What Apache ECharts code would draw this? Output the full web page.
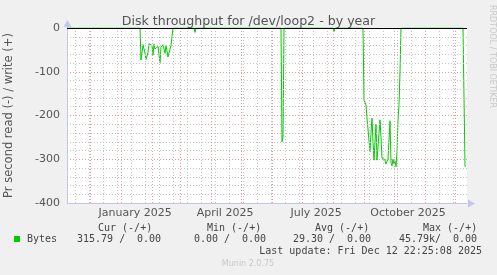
<!DOCTYPE html>
<html><head><meta charset="utf-8">
<script src="https://cdn.jsdelivr.net/npm/echarts@6/dist/echarts.min.js"></script>
<style>html,body{margin:0;padding:0;background:#f0f0f0}#c{width:497px;height:275px}</style>
</head><body><div id="c"></div>
<script>
const DAY = 86400000;
const endMs = Date.UTC(2025, 11, 12, 22, 25, 8);
const spanDays = 400;
const startMs = endMs - spanDays * DAY;

// read throughput (bytes/s), plotted as negative; sampled days since graph start
const readDays = [0, 18, 19, 20,
  73, 74, 75, 76, 77, 78, 79, 80, 81, 82, 83, 84, 85, 86, 87, 88, 89, 90, 91, 92, 93, 94, 95, 96, 97, 98, 99, 100, 101, 102, 103, 104, 105, 106,
  127, 128, 129,
  214, 215, 216, 217,
  222, 223, 224,
  266, 267, 268,
  296, 297, 298, 299, 300, 301, 302, 303, 304, 305, 306, 307, 308, 309, 310, 311, 312, 313, 314, 315, 316, 317, 318, 319, 320, 321, 322, 323, 324, 325, 326, 327, 328, 329, 330, 331, 332, 333, 334,
  396, 398, 399];
const readBytes = [0, 0, 3, 0,
  0, 73, 77, 38, 40, 58, 72, 70, 56, 36, 34, 36, 40, 62, 37, 48, 50, 44, 42, 42, 79, 44, 40, 38, 40, 58, 40, 38, 66, 67, 67, 40, 20, 0,
  0, 10, 0,
  0, 260, 250, 0,
  0, 4, 0,
  0, 8, 0,
  0, 165, 170, 176, 206, 206, 208, 283, 240, 206, 260, 302, 302, 220, 302, 302, 302, 210, 250, 297, 298, 300, 302, 311, 305, 300, 302, 212, 309, 315, 300, 310, 305, 317, 285, 210, 175, 100, 0,
  0, 316, 316];

const monthNames = ['January','February','March','April','May','June','July','August','September','October','November','December'];
const xLabelDates = [Date.UTC(2025,0,15), Date.UTC(2025,3,15), Date.UTC(2025,6,15), Date.UTC(2025,9,15)];
const yMin = -400, yMax = 0, yStep = 100, yMinorStep = 20;

const legendHeaders = ['Cur (-/+)', 'Min (-/+)', 'Avg (-/+)', 'Max (-/+)'];
const legendRead = ['315.79 /', '0.00 /', '29.30 /', '45.79k/'];
const legendWrite = ['0.00', '0.00', '0.00', '0.00'];
const legendName = 'Bytes';
const lastUpdate = 'Last update: Fri Dec 12 22:25:08 2025';

// grid line positions (drawn at midday so they fall on pixel centres)
const HALF = DAY / 2;
const monthStarts = [];
for (let i = 0; i < 14; i++) { const t = Date.UTC(2024, 11 + i, 1) + HALF; if (t > startMs && t < endMs) monthStarts.push(t); }
const minorDates = [];
for (let t = Date.UTC(2024, 10, 16) + HALF; t < endMs; t += 14 * DAY) if (t > startMs) minorDates.push(t);
const minorYs = [];
for (let v = yMin + yMinorStep; v < yMax; v += yMinorStep) if (v % yStep !== 0) minorYs.push(v);

const lineData = readDays.map((d, i) => [startMs + d * DAY, -readBytes[i]]);

const mono = 'DejaVu Sans Mono';
const txt = '#444';
const headX = [98, 207, 315, 423];
const readX = [77, 194, 293, 399];
const writeX = [137, 242, 347, 453];
const axisCol = '#c4c6ee';
const gridCol = '#c4c4c4';
const majCol = '#e89a9a';
const dot = [1, 2];

const chart = echarts.init(document.getElementById('c'), null, {renderer: 'canvas'});
chart.setOption({
  backgroundColor: '#f0f0f0',
  animation: false,
  title: {
    text: 'Disk throughput for /dev/loop2 - by year',
    left: 'center', top: 10,
    textStyle: {fontFamily: 'DejaVu Sans', fontSize: 12.6, fontWeight: 'normal', color: '#555'}
  },
  grid: {left: 67, top: 28, width: 400, height: 175, show: true, backgroundColor: '#ffffff', borderWidth: 0, containLabel: false, outerBoundsMode: 'none'},
  xAxis: {
    type: 'value', min: startMs, max: endMs,
    axisLine: {show: true, onZero: false, lineStyle: {color: axisCol, width: 1}},
    axisTick: {show: false},
    splitLine: {show: false},
    axisLabel: {
      customValues: xLabelDates,
      formatter: v => { const d = new Date(v); return monthNames[d.getUTCMonth()] + ' ' + d.getUTCFullYear(); },
      fontFamily: 'DejaVu Sans', fontSize: 11, color: '#555', margin: 5, hideOverlap: false
    }
  },
  yAxis: {
    type: 'value', min: yMin, max: yMax, interval: yStep,
    name: 'Pr second read (-) / write (+)', nameLocation: 'middle', nameGap: 52,
    nameTextStyle: {fontFamily: 'DejaVu Sans', fontSize: 11.5, color: '#555'},
    axisLine: {show: true, onZero: false, lineStyle: {color: axisCol, width: 1}},
    axisTick: {show: false},
    axisLabel: {fontFamily: 'DejaVu Sans', fontSize: 11, color: '#555', margin: 7},
    splitLine: {show: true, lineStyle: {color: majCol, type: dot, width: 1}}
  },
  series: [
    {
      type: 'line', data: [], z: 1, silent: true,
      markLine: {
        silent: true, symbol: ['none', 'none'], label: {show: false}, animation: false,
        data: minorYs.map(v => ({yAxis: v, lineStyle: {color: gridCol, type: dot, width: 1}}))
          .concat(minorDates.map(t => ({xAxis: t, lineStyle: {color: gridCol, type: dot, width: 1}})))
          .concat(monthStarts.map(t => ({xAxis: t, lineStyle: {color: majCol, type: dot, width: 1}})))
      }
    },
    {
      name: legendName, type: 'line', data: lineData, z: 3, showSymbol: false, symbol: 'none',
      lineStyle: {color: '#00cc00', width: 1}, itemStyle: {color: '#00cc00'},
      markLine: {
        silent: true, symbol: ['none', 'none'], label: {show: false},
        data: [{yAxis: 0}], lineStyle: {color: '#000', type: 'solid', width: 1}
      }
    }
  ],
  graphic: [
    {type: 'polygon', shape: {points: [[63.5, 27], [67.5, 20], [71.5, 27]]}, style: {fill: axisCol}},
    {type: 'polygon', shape: {points: [[468, 199.5], [475, 203.5], [468, 207.5]]}, style: {fill: axisCol}},
    {type: 'text', x: 488, y: 5, rotation: -Math.PI / 2, style: {text: 'RRDTOOL / TOBI OETIKER', fontFamily: 'DejaVu Sans', fontSize: 8, fill: '#c8c8c8', textAlign: 'left', textVerticalAlign: 'bottom'}},
    {type: 'rect', shape: {x: 14, y: 236, width: 6, height: 6}, style: {fill: '#00cc00'}},
    {type: 'text', x: 27, y: 239, style: {text: legendName, fontFamily: mono, fontSize: 10, fill: txt, textVerticalAlign: 'middle'}}
  ].concat(legendHeaders.map((t, i) => ({type: 'text', x: headX[i], y: 228, style: {text: t, fontFamily: mono, fontSize: 10, fill: txt, textVerticalAlign: 'middle'}})))
   .concat(legendRead.map((t, i) => ({type: 'text', x: readX[i], y: 239, style: {text: t, fontFamily: mono, fontSize: 10, fill: txt, textVerticalAlign: 'middle'}})))
   .concat(legendWrite.map((t, i) => ({type: 'text', x: writeX[i], y: 239, style: {text: t, fontFamily: mono, fontSize: 10, fill: txt, textVerticalAlign: 'middle'}})))
   .concat([
    {type: 'text', x: 482, y: 251, style: {text: lastUpdate, fontFamily: mono, fontSize: 10, fill: txt, textAlign: 'right', textVerticalAlign: 'middle'}},
    {type: 'text', x: 248, y: 264, style: {text: 'Munin 2.0.75', fontFamily: 'DejaVu Sans', fontSize: 8, fill: '#c8c8c8', textAlign: 'center', textVerticalAlign: 'middle'}}
  ])
});
</script></body></html>
